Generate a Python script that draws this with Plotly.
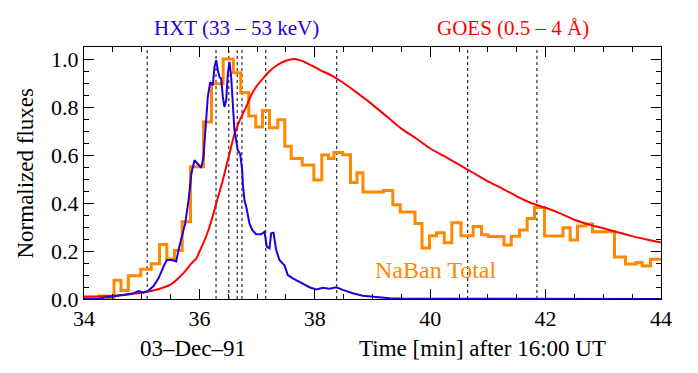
import plotly.graph_objects as go

# ---------------- data ----------------
hxt_t = [34.0, 34.25, 34.338, 34.511, 34.685, 34.858, 34.945, 35.031, 35.118, 35.205, 35.291,
         35.378, 35.435, 35.522, 35.598, 35.638, 35.695, 35.754, 35.811, 35.863, 35.915,
         35.972, 36.031, 36.071, 36.106, 36.146, 36.187, 36.232, 36.262, 36.291, 36.319,
         36.348, 36.378, 36.406, 36.435, 36.464, 36.492, 36.522, 36.551, 36.579, 36.608,
         36.638, 36.665, 36.707, 36.742, 36.752, 36.782, 36.811, 36.868, 36.915, 36.984,
         37.071, 37.128, 37.168, 37.215, 37.244, 37.284, 37.331, 37.388, 37.475, 37.532,
         37.619, 37.705, 37.792, 37.908, 38.024, 38.139, 38.255, 38.371, 38.485, 38.659,
         38.832, 39.064, 39.295, 39.584, 40.0, 41.0, 42.0, 43.0, 44.0]
hxt_v = [0.0, 0.0, 0.005, 0.01, 0.017, 0.024, 0.033, 0.026, 0.035, 0.054, 0.086,
         0.135, 0.162, 0.162, 0.156, 0.204, 0.253, 0.315, 0.41, 0.525, 0.578,
         0.564, 0.547, 0.592, 0.703, 0.842, 0.904, 0.89, 0.967, 0.995, 0.953,
         0.925, 0.918, 0.842, 0.8, 0.828, 0.939, 0.988, 0.925, 0.8, 0.7,
         0.66, 0.62, 0.605, 0.536, 0.48, 0.41, 0.385, 0.315, 0.288, 0.27,
         0.27, 0.28, 0.218, 0.211, 0.274, 0.276, 0.204, 0.162, 0.14, 0.1,
         0.086, 0.076, 0.065, 0.049, 0.04, 0.047, 0.043, 0.049, 0.038, 0.024,
         0.014, 0.007, 0.003, 0.001, 0.001, 0.0, 0.001, 0.0, 0.0]

goes_t = [34.0, 34.5, 34.8, 35.1, 35.3, 35.5, 35.65, 35.75, 35.85, 35.95, 36.0, 36.1,
          36.2, 36.3, 36.4, 36.5, 36.6, 36.7, 36.8, 36.9, 37.0, 37.1, 37.2, 37.35,
          37.5, 37.65, 37.8, 37.95, 38.1, 38.3, 38.5, 38.7, 39.0, 39.25, 39.5, 39.75,
          40.0, 40.25, 40.5, 40.75, 41.0, 41.25, 41.5, 41.75, 42.0, 42.25, 42.5, 42.75,
          43.0, 43.25, 43.5, 43.75, 44.0]
goes_v = [0.01, 0.014, 0.02, 0.03, 0.042, 0.06, 0.09, 0.115, 0.145, 0.17, 0.197, 0.25,
          0.32, 0.405, 0.49, 0.585, 0.68, 0.745, 0.795, 0.85, 0.89, 0.918, 0.946, 0.975,
          0.993, 1.0, 0.99, 0.972, 0.953, 0.93, 0.9, 0.865, 0.81, 0.76, 0.71, 0.67,
          0.627, 0.594, 0.56, 0.525, 0.49, 0.46, 0.428, 0.4, 0.38, 0.357, 0.33, 0.31,
          0.295, 0.278, 0.262, 0.248, 0.235]

naban_t = [34.0, 34.269, 34.425, 34.52, 34.641, 34.768, 34.983, 35.166, 35.309, 35.435,
           35.568, 35.702, 35.846, 36.071, 36.21, 36.412, 36.588, 36.717, 36.854, 36.977,
           37.094, 37.215, 37.359, 37.48, 37.591, 37.782, 37.983, 38.121, 38.237, 38.333,
           38.485, 38.619, 38.731, 38.835, 39.19, 39.352, 39.48, 39.737, 39.858, 39.988,
           40.109, 40.244, 40.374, 40.534, 40.745, 40.889, 41.002, 41.279, 41.404, 41.548,
           41.681, 41.808, 41.981, 42.301, 42.426, 42.553, 42.692, 42.813, 43.194, 43.385,
           43.57, 43.674, 43.818, 44.0]
naban_v = [0.004, 0.013, 0.004, 0.078, 0.035, 0.097, 0.124, 0.147, 0.227, 0.167,
           0.202, 0.322, 0.551, 0.737, 0.897, 1.0, 0.943, 0.86, 0.7625, 0.717,
           0.785, 0.714, 0.747, 0.636, 0.585, 0.558, 0.496, 0.6, 0.585, 0.61,
           0.601, 0.485, 0.526, 0.446, 0.452, 0.393, 0.362, 0.315, 0.213, 0.264,
           0.276, 0.234, 0.318, 0.264, 0.302, 0.268, 0.26, 0.225, 0.261, 0.288,
           0.335, 0.381, 0.263, 0.297, 0.246, 0.304, 0.3125, 0.28, 0.175, 0.146,
           0.152, 0.138, 0.166, 0.166]

marker_times = [35.095, 36.288, 36.51, 36.655, 36.738, 37.15, 38.38, 40.65, 41.85]

x_tickvals = [34, 36, 38, 40, 42, 44]
y_tickvals = [0.0, 0.2, 0.4, 0.6, 0.8, 1.0]

BLUE = "#2200dd"
RED = "#ff0000"
ORANGE = "#ff8800"
FONT = "Liberation Serif"

fig = go.Figure()

fig.add_trace(go.Scatter(x=naban_t, y=naban_v, mode="lines", line_shape="hv",
                         line=dict(color=ORANGE, width=3), showlegend=False))
fig.add_trace(go.Scatter(x=goes_t, y=goes_v, mode="lines", line_shape="spline",
                         line=dict(color=RED, width=2, smoothing=0.6), showlegend=False))
fig.add_trace(go.Scatter(x=hxt_t, y=hxt_v, mode="lines",
                         line=dict(color=BLUE, width=2), showlegend=False))

for t in marker_times:
    fig.add_shape(type="line", xref="x", yref="paper", x0=t, x1=t, y0=0, y1=1,
                  line=dict(color="black", width=1, dash="3px,3px"), layer="below")

fig.add_annotation(text="HXT (33 \u2013 53 keV)", xref="paper", yref="paper",
                   x=0.265, y=1.075, showarrow=False, xanchor="center", yanchor="middle",
                   font=dict(family=FONT, size=21, color=BLUE))
fig.add_annotation(text="GOES (0.5 \u2013 4 \u00c5)", xref="paper", yref="paper",
                   x=0.7435, y=1.075, showarrow=False, xanchor="center", yanchor="middle",
                   font=dict(family=FONT, size=21, color=RED))
fig.add_annotation(text="NaBan Total", xref="x", yref="y", x=39.0, y=0.121,
                   showarrow=False, xanchor="left", yanchor="middle",
                   font=dict(family=FONT, size=24, color=ORANGE))
fig.add_annotation(text="03\u2013Dec\u201391", xref="paper", yref="paper",
                   x=(193 - 84.5) / 577, y=-0.198, showarrow=False,
                   xanchor="center", yanchor="middle",
                   font=dict(family=FONT, size=23, color="black"))
fig.add_annotation(text="Time [min] after 16:00 UT", xref="paper", yref="paper",
                   x=(483 - 84.5) / 577, y=-0.198, showarrow=False,
                   xanchor="center", yanchor="middle",
                   font=dict(family=FONT, size=23, color="black"))
fig.add_annotation(text="Normalized fluxes", xref="paper", yref="paper",
                   x=(25 - 84.5) / 577, y=0.5, showarrow=False, textangle=-90,
                   xanchor="center", yanchor="middle",
                   font=dict(family=FONT, size=23, color="black"))

fig.update_xaxes(range=[34, 44], tickvals=x_tickvals, ticktext=[str(v) for v in x_tickvals],
                 ticks="inside", ticklen=10, tickcolor="black", tickwidth=1,
                 minor=dict(dtick=0.5, tick0=34, ticks="inside", ticklen=5, tickcolor="black"),
                 showline=True, linecolor="black", linewidth=1, mirror="allticks",
                 showgrid=False, zeroline=False,
                 tickfont=dict(family=FONT, size=22, color="black"))
fig.update_yaxes(range=[0, 1.05], tickvals=y_tickvals, ticktext=["%.1f" % v for v in y_tickvals],
                 ticks="inside", ticklen=10, tickcolor="black", tickwidth=1,
                 minor=dict(dtick=0.05, tick0=0, ticks="inside", ticklen=5, tickcolor="black"),
                 showline=True, linecolor="black", linewidth=1, mirror="allticks",
                 showgrid=False, zeroline=False,
                 tickfont=dict(family=FONT, size=22, color="black"))

# the page adds an 8px body margin, so shift the plot area up/left by 8px
fig.update_layout(width=698, height=373,
                  margin=dict(l=76, r=45, t=39, b=82, autoexpand=False),
                  plot_bgcolor="white", paper_bgcolor="white")

fig.write_html("out.html")
